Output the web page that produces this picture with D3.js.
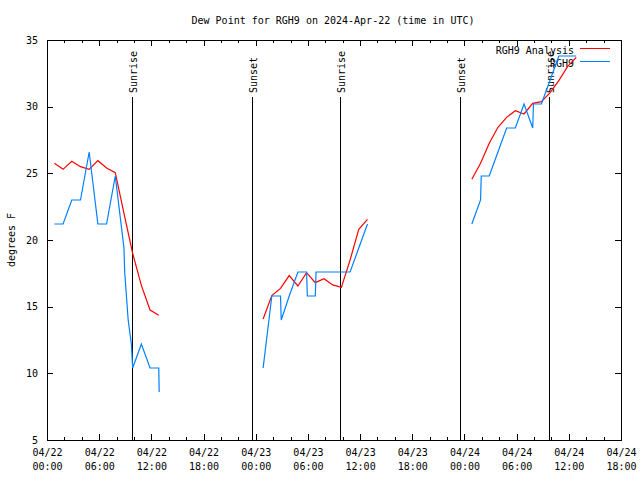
<!DOCTYPE html>
<html><head><meta charset="utf-8">
<script src="https://cdn.jsdelivr.net/npm/d3@7"></script>
<style>
html,body{margin:0;padding:0;background:#fff;}
text{font-family:"DejaVu Sans Mono","Liberation Mono",monospace;font-size:10px;fill:#000;}
</style></head>
<body>
<svg id="chart" width="640" height="480"></svg>
<script>
const titleText = "Dew Point for RGH9 on 2024-Apr-22 (time in UTC)";
const yLabel = "degrees F";
const seriesNames = ["RGH9 Analysis", "RGH9"];

// Analysis (red) – null marks a gap
const analysisTimes = [
 "04-22 00:51","04-22 01:51","04-22 02:51","04-22 03:51","04-22 04:51","04-22 05:51","04-22 06:51","04-22 07:51","04-22 08:51","04-22 09:51","04-22 10:51","04-22 11:51","04-22 12:51",
 "04-22 18:00",
 "04-23 00:51","04-23 01:51","04-23 02:51","04-23 03:51","04-23 04:51","04-23 05:51","04-23 06:51","04-23 07:51","04-23 08:51","04-23 09:51","04-23 10:51","04-23 11:51","04-23 12:51",
 "04-23 18:00",
 "04-24 00:51","04-24 01:51","04-24 02:51","04-24 03:51","04-24 04:51","04-24 05:51","04-24 06:51","04-24 07:51","04-24 08:51","04-24 09:51","04-24 10:51","04-24 11:51","04-24 12:51"
];
const analysisValues = [
 25.75,25.3,25.9,25.5,25.3,25.95,25.4,25.05,22.0,19.0,16.6,14.75,14.35,
 null,
 14.07,15.83,16.37,17.33,16.55,17.55,16.8,17.1,16.63,16.45,18.5,20.8,21.55,
 null,
 24.55,25.75,27.25,28.45,29.2,29.7,29.45,30.25,30.38,31.05,31.95,33.0,33.7
];

// Observations (blue)
const obsTimes = [
 "04-22 00:51","04-22 01:51","04-22 02:51","04-22 03:51","04-22 04:51","04-22 05:51","04-22 06:51","04-22 07:51","04-22 08:51","04-22 08:56","04-22 09:20","04-22 09:42","04-22 09:51","04-22 10:51","04-22 11:51","04-22 12:51","04-22 12:54",
 "04-22 18:00",
 "04-23 00:51","04-23 01:51","04-23 02:51","04-23 02:56","04-23 03:51","04-23 04:51","04-23 05:51","04-23 05:56","04-23 06:51","04-23 06:56","04-23 07:51","04-23 08:51","04-23 09:51","04-23 10:51","04-23 11:51","04-23 12:51",
 "04-23 18:00",
 "04-24 00:51","04-24 01:51","04-24 01:56","04-24 02:51","04-24 03:51","04-24 04:51","04-24 05:51","04-24 06:51","04-24 07:51","04-24 07:56","04-24 08:51","04-24 09:51","04-24 10:51","04-24 11:51","04-24 12:51"
];
const obsValues = [
 21.2,21.2,23.0,23.0,26.6,21.2,21.2,24.8,19.4,17.6,14.0,12.2,10.4,12.2,10.4,10.4,8.6,
 null,
 10.4,15.8,15.8,14.0,15.8,17.6,17.6,15.8,15.8,17.6,17.6,17.6,17.6,17.6,19.4,21.2,
 null,
 21.2,23.0,24.8,24.8,26.6,28.4,28.4,30.2,28.4,30.2,30.2,32.0,33.8,33.8,33.8
];

const sunTimes = ["04-22 09:49","04-22 23:32","04-23 09:44","04-23 23:31","04-24 09:45"];
const sunLabels = ["Sunrise","Sunset","Sunrise","Sunset","Sunrise"];
const yTicks = [5,10,15,20,25,30,35];

const parse = s => d3.utcParse("%Y-%m-%d %H:%M")("2024-" + s);
const x0 = parse("04-22 00:00"), x1 = parse("04-24 18:00");
const L = 47, R = 621, T = 40, B = 440;

const svg = d3.select("#chart");
const x = d3.scaleUtc().domain([x0, x1]).range([L, R]);
const y = d3.scaleLinear().domain([5, 35]).range([B, T]);

const majorTicks = d3.utcHour.every(6).range(x0, d3.utcHour.offset(x1, 1));
const minorTicks = d3.utcHour.every(2).range(x0, d3.utcHour.offset(x1, 1)).filter(d => d.getUTCHours() % 6 !== 0);

function clean(g){ g.select(".domain").remove(); g.selectAll("line").attr("stroke","#000").attr("shape-rendering","crispEdges"); }

// bottom axis
svg.append("g").attr("transform",`translate(0,${B})`)
  .call(d3.axisBottom(x).tickValues(minorTicks).tickSize(-3).tickFormat(""))
  .call(clean);
const bx = svg.append("g").attr("transform",`translate(0,${B})`)
  .call(d3.axisBottom(x).tickValues(majorTicks).tickSize(-6).tickPadding(0)
        .tickFormat(d3.utcFormat("%m/%d")))
  .call(clean);
bx.selectAll("text").each(function(d){
  const t = d3.select(this).text("").attr("y", 0).attr("dy", null);
  t.append("tspan").attr("x",0).attr("y",16).text(d3.utcFormat("%m/%d")(d));
  t.append("tspan").attr("x",0).attr("y",30).text(d3.utcFormat("%H:%M")(d));
}).style("font-family",'"DejaVu Sans Mono",monospace').style("font-size","10px");

// top axis (mirror)
svg.append("g").attr("transform",`translate(0,${T})`)
  .call(d3.axisTop(x).tickValues(minorTicks).tickSize(-3).tickFormat(""))
  .call(clean);
svg.append("g").attr("transform",`translate(0,${T})`)
  .call(d3.axisTop(x).tickValues(majorTicks).tickSize(-6).tickFormat(""))
  .call(clean);

// left axis
const ly = svg.append("g").attr("transform",`translate(${L},0)`)
  .call(d3.axisLeft(y).tickValues(yTicks).tickSize(-6).tickPadding(9).tickFormat(d3.format("d")))
  .call(clean);
ly.selectAll("text").style("font-family",'"DejaVu Sans Mono",monospace').style("font-size","10px");
// right axis
svg.append("g").attr("transform",`translate(${R},0)`)
  .call(d3.axisRight(y).tickValues(yTicks).tickSize(-6).tickFormat(""))
  .call(clean);

// border
svg.append("rect").attr("x",L).attr("y",T).attr("width",R-L).attr("height",B-T)
  .attr("fill","none").attr("stroke","#000").attr("shape-rendering","crispEdges");

// title & y label
svg.append("text").attr("x",333).attr("y",20).attr("text-anchor","middle").attr("dominant-baseline","central").text(titleText);
svg.append("text").attr("transform","translate(11,240) rotate(-90)").attr("text-anchor","middle").attr("dominant-baseline","central").text(yLabel);

// sunrise / sunset lines
const sunG = svg.append("g");
sunTimes.forEach((s,i)=>{
  const xp = Math.round(x(parse(s))) + 0.5;
  sunG.append("line").attr("x1",xp).attr("x2",xp).attr("y1",97).attr("y2",B)
    .attr("stroke","#000").attr("shape-rendering","crispEdges");
  sunG.append("text").attr("transform",`translate(${xp+1},93) rotate(-90)`)
    .attr("text-anchor","start").attr("dominant-baseline","central").text(sunLabels[i]);
});

// legend
const legColors = ["#ff0000","#0080ff"];
seriesNames.forEach((n,i)=>{
  const yy = 50 + i*13;
  svg.append("text").attr("x",574).attr("y",yy).attr("text-anchor","end").attr("dominant-baseline","central").text(n);
  svg.append("line").attr("x1",580).attr("x2",610).attr("y1",yy-1.5).attr("y2",yy-1.5)
    .attr("stroke",legColors[i]).attr("stroke-width",1).attr("shape-rendering","crispEdges");
});

// data lines
function drawSeries(times, values, color){
  const data = times.map((t,i)=>({t:parse(t), v:values[i]}));
  const line = d3.line().defined(d=>d.v!==null).x(d=>x(d.t)).y(d=>y(d.v));
  svg.append("path").datum(data).attr("d",line).attr("fill","none")
    .attr("stroke",color).attr("stroke-width",1.2);
}
drawSeries(analysisTimes, analysisValues, legColors[0]);
drawSeries(obsTimes, obsValues, legColors[1]);
</script>
</body></html>
